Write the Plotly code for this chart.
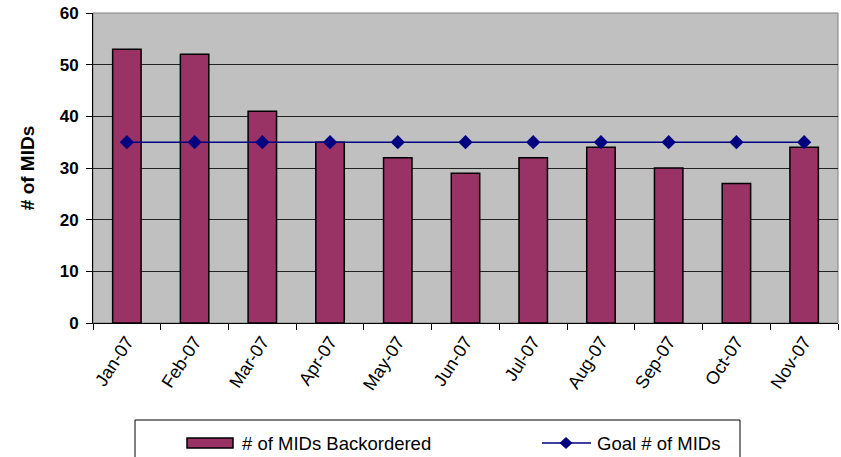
import plotly.graph_objects as go

months = ["Jan-07", "Feb-07", "Mar-07", "Apr-07", "May-07", "Jun-07",
          "Jul-07", "Aug-07", "Sep-07", "Oct-07", "Nov-07"]
backordered = [53, 52, 41, 35, 32, 29, 32, 34, 30, 27, 34]
goal = [35, 35, 35, 35, 35, 35, 35, 35, 35, 35, 35]
bar_name = "# of MIDs Backordered"
goal_name = "Goal # of MIDs"

BAR_COLOR = "#993366"
LINE_COLOR = "#000080"
FONT = "Liberation Sans, Arial, sans-serif"

W, H = 841, 457
# plot area in page pixels
PL, PR, PT, PB = 93, 838, 13, 323
L, T = PL, PT
R = W - PR
B = H - PB
pw, ph = PR - PL, PB - PT


def px_x(p):
    return (p - PL) / pw


def px_y(p):
    return (PB - p) / ph


fig = go.Figure()
fig.add_trace(go.Bar(
    x=months, y=backordered, name=bar_name,
    marker=dict(color=BAR_COLOR, line=dict(color="black", width=1.5)),
    width=0.42, showlegend=False,
))
fig.add_trace(go.Scatter(
    x=months, y=goal, name=goal_name, mode="lines+markers",
    line=dict(color=LINE_COLOR, width=1.5),
    marker=dict(symbol="diamond", size=11, color=LINE_COLOR),
    showlegend=False,
))

shapes = []
# plot-area border
shapes.append(dict(type="rect", xref="paper", yref="paper", x0=0, x1=1, y0=0, y1=1,
                   line=dict(color="#808080", width=1), layer="below"))
# legend box
shapes.append(dict(type="rect", xref="paper", yref="paper",
                   x0=px_x(135), x1=px_x(740), y0=px_y(475), y1=px_y(420),
                   line=dict(color="black", width=1), fillcolor="white"))
# legend symbols
LY = 443
shapes.append(dict(type="rect", xref="paper", yref="paper",
                   x0=px_x(187), x1=px_x(233), y0=px_y(448), y1=px_y(438),
                   line=dict(color="black", width=1.5), fillcolor=BAR_COLOR))
shapes.append(dict(type="line", xref="paper", yref="paper",
                   x0=px_x(542), x1=px_x(591), y0=px_y(LY), y1=px_y(LY),
                   line=dict(color=LINE_COLOR, width=1.5)))
cx = 566
d = "M {} {} L {} {} L {} {} L {} {} Z".format(
    px_x(cx - 6.5), px_y(LY), px_x(cx), px_y(LY - 6),
    px_x(cx + 6.5), px_y(LY), px_x(cx), px_y(LY + 6))
shapes.append(dict(type="path", xref="paper", yref="paper", path=d,
                   fillcolor=LINE_COLOR, line=dict(color=LINE_COLOR, width=0)))

annotations = [
    dict(text=bar_name, xref="paper", yref="paper", x=px_x(240), y=px_y(LY),
         xanchor="left", yanchor="middle", showarrow=False,
         font=dict(size=18.5, family=FONT, color="black")),
    dict(text=goal_name, xref="paper", yref="paper", x=px_x(595), y=px_y(LY),
         xanchor="left", yanchor="middle", showarrow=False,
         font=dict(size=18.5, family=FONT, color="black")),
]

fig.update_layout(
    width=W, height=H,
    margin=dict(l=L, r=R, t=T, b=B, autoexpand=False),
    paper_bgcolor="white", plot_bgcolor="#C0C0C0",
    font=dict(family=FONT, color="black"),
    showlegend=False,
    shapes=shapes, annotations=annotations,
    xaxis=dict(type="category", tickangle=-57, tickson="boundaries",
               ticks="outside", ticklen=6, tickcolor="black",
               showline=True, linecolor="black", linewidth=1,
               tickfont=dict(size=18), showgrid=False, automargin=False,
               range=[-0.5, 10.5]),
    yaxis=dict(range=[0, 60], dtick=10, ticks="outside", ticklen=6,
               tickcolor="black", showline=True, linecolor="black",
               linewidth=1, gridcolor="#222222", gridwidth=1,
               tickfont=dict(size=17, family=FONT), ticklabelstandoff=4,
               ticklabeloverflow="allow",
               title=dict(text="<b># of MIDs</b>", font=dict(size=19), standoff=20),
               zeroline=False, automargin=False),
)
fig.update_yaxes(tickprefix="<b>", ticksuffix="</b>")

fig.write_html("out.html", config={"displayModeBar": False},
               post_script="document.body.style.margin='0';document.body.style.overflow='hidden';")
